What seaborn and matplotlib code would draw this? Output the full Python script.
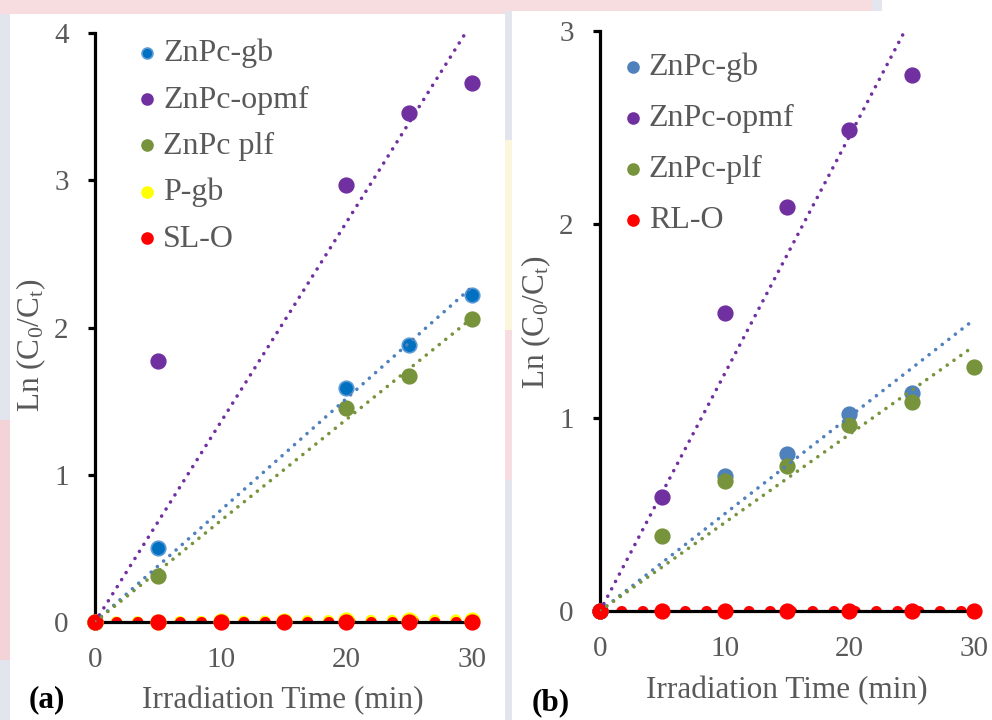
import numpy as np
import pandas as pd
import matplotlib
matplotlib.use("Agg")
import matplotlib.pyplot as plt
from matplotlib.patches import Rectangle
import seaborn as sns

# ---------------- data ----------------
# panel (a)
time_a_znpc = [0, 5, 20, 25, 30]
a_gb = [0.0, 0.50, 1.59, 1.88, 2.22]
a_opmf = [0.0, 1.77, 2.97, 3.46, 3.66]
a_plf = [0.0, 0.31, 1.45, 1.67, 2.06]
time_a_ref = [0, 5, 10, 15, 20, 25, 30]
a_pgb = [0.0, 0.003, 0.005, 0.006, 0.012, 0.013, 0.015]
a_slo = [0.0, 0.0, 0.0, 0.0, 0.0, 0.0, 0.0]

# panel (b)
time_b_gb = [0, 10, 15, 20, 25]
b_gb = [0.0, 0.70, 0.81, 1.02, 1.13]
time_b_opmf = [0, 5, 10, 15, 20, 25]
b_opmf = [0.0, 0.59, 1.54, 2.09, 2.49, 2.77]
time_b_all = [0, 5, 10, 15, 20, 25, 30]
b_plf = [0.0, 0.39, 0.67, 0.75, 0.96, 1.08, 1.26]
b_rlo = [0.0, 0.0, 0.0, 0.0, 0.0, 0.0, 0.0]

labels_a = ["ZnPc-gb", "ZnPc-opmf", "ZnPc plf", "P-gb", "SL-O"]
labels_b = ["ZnPc-gb", "ZnPc-opmf", "ZnPc-plf", "RL-O"]
x_ticks = [0, 10, 20, 30]
y_ticks_a = [0, 1, 2, 3, 4]
y_ticks_b = [0, 1, 2, 3]

# ---------------- style ----------------
sns.set_theme(style="ticks")
plt.rcParams["font.family"] = ["Liberation Serif", "DejaVu Serif"]
plt.rcParams["mathtext.fontset"] = "custom"
plt.rcParams["mathtext.rm"] = "Liberation Serif"
plt.rcParams["mathtext.it"] = "Liberation Serif:italic"

GREY = "#595959"
W, H = 992, 720

fig = plt.figure(figsize=(W / 100, H / 100), dpi=100)
fig.patch.set_facecolor("white")


def px_rect(x0, y0, x1, y1, color):
    """Background block given in pixel coordinates (origin top-left)."""
    fig.add_artist(Rectangle((x0 / W, 1 - y1 / H), (x1 - x0) / W, (y1 - y0) / H,
                             transform=fig.transFigure, facecolor=color,
                             edgecolor="none", zorder=-10))


# faint printed backdrop around the two white panels
px_rect(0, 0, 872, 14, "#f8dde0")
px_rect(872, 0, 882, 14, "#e4e6ef")
px_rect(0, 14, 10, 720, "#e2e4ee")
px_rect(0, 420, 10, 660, "#f3d3d8")
px_rect(505, 11, 512, 720, "#e2e4ee")
px_rect(505, 140, 512, 330, "#fbf5dc")
px_rect(505, 330, 512, 480, "#f7dde1")
px_rect(10, 14, 505, 720, "white")
px_rect(512, 11, 992, 720, "white")

ax_a = fig.add_axes([95 / W, 1 - 622 / H, 377 / W, 589 / H])
ax_b = fig.add_axes([600 / W, 1 - 611 / H, 374 / W, 580 / H])


def origin_fit(t, y):
    t = np.asarray(t, float)
    y = np.asarray(y, float)
    return (t * y).sum() / (t * t).sum()


def draw_series(ax, t, y, label, color, edge=None, trend_color=None, thick=False):
    df = pd.DataFrame({"t": t, "v": y})
    sns.scatterplot(data=df, x="t", y="v", ax=ax, color=color, s=110,
                    edgecolor=edge if edge else color, linewidth=1.2,
                    label=label, zorder=5, clip_on=False)
    k = origin_fit(t, y)
    line_df = pd.DataFrame({"t": [0, 30], "v": [0, 30 * k]})
    if thick:
        sns.lineplot(data=line_df, x="t", y="v", ax=ax, color=trend_color or color,
                     lw=8.0, legend=False, zorder=4, label="_nolegend_")
        ln = ax.lines[-1]
        ln.set_linestyle((0, (0.01, 1.9)))
        ln.set_dash_capstyle("round")
    else:
        sns.lineplot(data=line_df, x="t", y="v", ax=ax, color=trend_color or color,
                     lw=2.6, legend=False, zorder=6, label="_nolegend_")
        ln = ax.lines[-1]
        ln.set_linestyle((0, (0.01, 2.3)))
        ln.set_dash_capstyle("round")


# panel (a)
draw_series(ax_a, time_a_znpc, a_gb, labels_a[0], "#0070C0", edge="#5B9BD5", trend_color="#4F81BD")
draw_series(ax_a, time_a_znpc, a_opmf, labels_a[1], "#7030A0")
draw_series(ax_a, time_a_znpc, a_plf, labels_a[2], "#77933C")
draw_series(ax_a, time_a_ref, a_pgb, labels_a[3], "#FFFF00", thick=True)
draw_series(ax_a, time_a_ref, a_slo, labels_a[4], "#FF0000", thick=True)

# panel (b)
draw_series(ax_b, time_b_gb, b_gb, labels_b[0], "#4F81BD")
draw_series(ax_b, time_b_opmf, b_opmf, labels_b[1], "#7030A0")
draw_series(ax_b, time_b_all, b_plf, labels_b[2], "#77933C")
draw_series(ax_b, time_b_all, b_rlo, labels_b[3], "#FF0000", thick=True)


def style_axes(ax, ymax, yticks, ylab_xy, xlab_xy, leg_anchor, leg_spacing, tag, tag_xy):
    ax.set_facecolor("none")
    ax.set_xlim(0, 30)
    ax.set_ylim(0, ymax)
    ax.set_xticks(x_ticks)
    ax.set_yticks(yticks)
    ax.set_xticklabels([str(v) for v in x_ticks])
    ax.set_yticklabels([str(v) for v in yticks])
    sns.despine(ax=ax)
    for side in ("left", "bottom"):
        ax.spines[side].set_linewidth(2.3)
        ax.spines[side].set_color("black")
        ax.spines[side].set_zorder(4.5)
    ax.tick_params(axis="y", direction="out", length=5, width=2.3, color="black",
                   labelsize=21, labelcolor=GREY, pad=14)
    ax.tick_params(axis="x", direction="out", length=3, width=2.3, color="black",
                   labelsize=21, labelcolor=GREY, pad=15)
    ax.set_xlabel("Irradiation Time (min)", fontsize=22.5, color=GREY)
    ax.set_ylabel(r"Ln (C$_\mathrm{0}$/C$_\mathrm{t}$)", fontsize=22.5, color=GREY)
    ax.xaxis.set_label_coords(*xlab_xy)
    ax.yaxis.set_label_coords(*ylab_xy)
    leg = ax.legend(loc="upper left", bbox_to_anchor=leg_anchor, frameon=False,
                    fontsize=23, markerscale=0.75, handletextpad=-0.1,
                    labelspacing=leg_spacing, borderaxespad=0, handlelength=1.2)
    for txt in leg.get_texts():
        txt.set_color(GREY)
    fig.text(tag_xy[0] / W, 1 - tag_xy[1] / H, tag, fontsize=22.5, fontweight="bold",
             color="black", ha="center", va="center")


style_axes(ax_a, 4, y_ticks_a, (-0.125, 0.469), (0.499, -0.109), (0.054, 1.012), 0.53,
           "(a)", (47, 700))
style_axes(ax_b, 3, y_ticks_b, (-0.126, 0.498), (0.5, -0.112), (0.002, 0.985), 0.68,
           "(b)", (551, 703))

fig.savefig("out.png", dpi=100)
